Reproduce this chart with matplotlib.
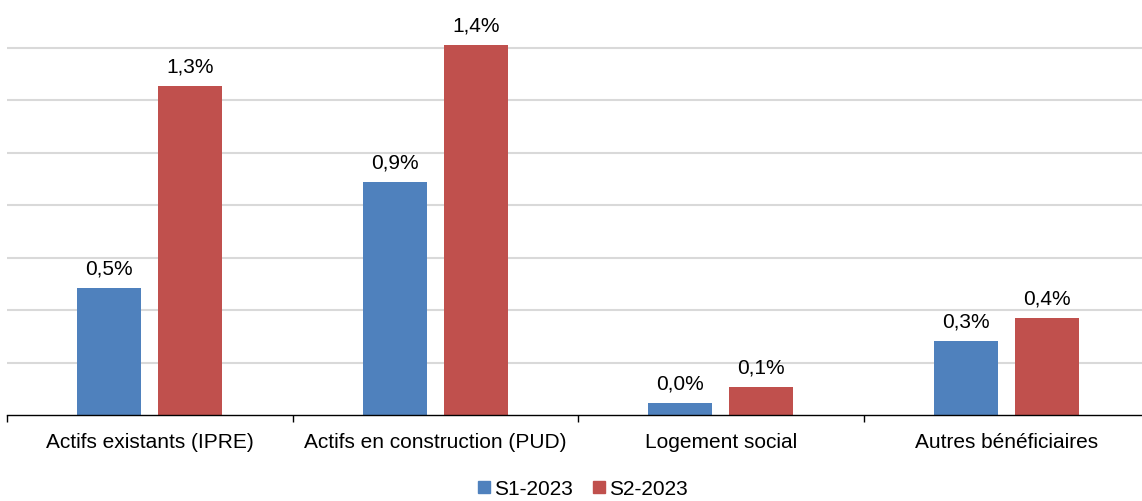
import numpy as np
import matplotlib.pyplot as plt
from matplotlib.patches import Patch

plt.rcParams['font.family'] = ['Liberation Sans', 'DejaVu Sans']

categories = ['Actifs existants (IPRE)', 'Actifs en construction (PUD)',
              'Logement social', 'Autres bénéficiaires']
series_names = ['S1-2023', 'S2-2023']
s1_values = [0.484, 0.888, 0.046, 0.282]
s2_values = [1.253, 1.410, 0.107, 0.370]
s1_labels = ['0,5%', '0,9%', '0,0%', '0,3%']
s2_labels = ['1,3%', '1,4%', '0,1%', '0,4%']

blue = '#4F81BD'
red = '#C0504D'

fig = plt.figure(figsize=(11.42, 5.02), dpi=100)
# plot area slightly wider than the figure, like the source
ax = fig.add_axes([7 / 1142, 86 / 502, 1.0, 416 / 502])

x = np.arange(len(categories))
w = 0.224
off = 0.142
b1 = ax.bar(x - off, s1_values, w, color=blue, zorder=3)
b2 = ax.bar(x + off, s2_values, w, color=red, zorder=3)

for bars, labs in ((b1, s1_labels), (b2, s2_labels)):
    for rect, lab in zip(bars, labs):
        ax.annotate(lab, (rect.get_x() + rect.get_width() / 2, rect.get_height()),
                    xytext=(0, 10.5), textcoords='offset points',
                    ha='center', va='baseline', fontsize=15, color='#000000')

ax.set_xlim(-0.5, 3.5)
ax.set_ylim(0, 416 / 262.5)
ax.set_yticks(np.arange(0.2, 1.5, 0.2))
ax.yaxis.grid(True, color='#D9D9D9', linewidth=1.5, zorder=0)
ax.tick_params(axis='y', left=False, labelleft=False)

ax.set_xticks(np.arange(-0.5, 4.0, 1.0))
ax.set_xticklabels([])
ax.tick_params(axis='x', which='major', direction='out', length=5, width=1, color='black')
ax.set_xticks(x, minor=True)
ax.set_xticklabels(categories, minor=True, fontsize=15)
ax.tick_params(axis='x', which='minor', length=0, pad=12)

for s in ('top', 'right', 'left'):
    ax.spines[s].set_visible(False)
ax.spines['bottom'].set_color('black')
ax.spines['bottom'].set_linewidth(1)
ax.spines['bottom'].set_zorder(4)

handles = [Patch(color=blue), Patch(color=red)]
fig.legend(handles, series_names, loc='center', bbox_to_anchor=(583 / 1142, 12 / 502),
           ncol=2, frameon=False, fontsize=15, handlelength=0.55, handleheight=0.55,
           handletextpad=0.2, columnspacing=1.0)

fig.savefig('out.png', dpi=100)
